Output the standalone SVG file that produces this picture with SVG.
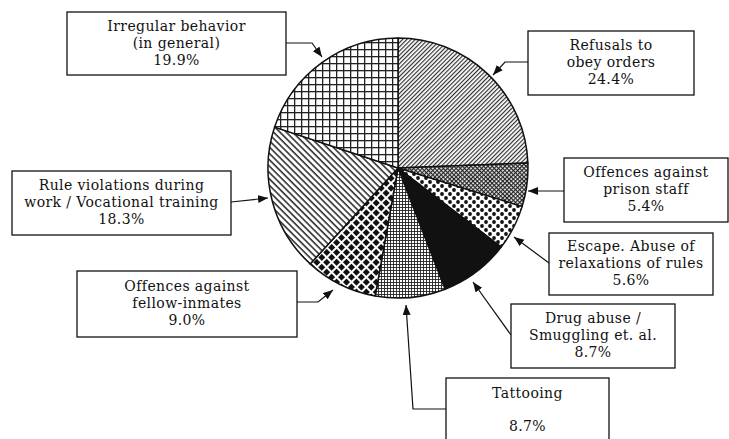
<svg xmlns="http://www.w3.org/2000/svg" width="729" height="439" viewBox="0 0 729 439">
<style>
.box{fill:#fff;stroke:#111;stroke-width:1.3}
.t{font-family:"DejaVu Serif","Liberation Serif",serif;font-size:14px;letter-spacing:0.4px;fill:#111;text-anchor:middle}
.c{fill:none;stroke:#111;stroke-width:1.2}
.s{stroke:#111;stroke-width:1.5;stroke-linejoin:round}
</style>
<defs>
<marker id="ah" markerUnits="userSpaceOnUse" markerWidth="12" markerHeight="10" refX="10" refY="4" orient="auto">
<path d="M0,0 L10,4 L0,8 Z" fill="#111"/>
</marker>
<pattern id="pRef" width="3" height="3" patternUnits="userSpaceOnUse" patternTransform="rotate(45)">
<rect width="3" height="3" fill="#fff"/><line x1="0.6" y1="0" x2="0.6" y2="3" stroke="#222" stroke-width="1.1"/>
</pattern>
<pattern id="pStaff" width="3" height="3" patternUnits="userSpaceOnUse" patternTransform="rotate(45)">
<rect width="3" height="3" fill="#fff"/><rect width="3" height="1.2" fill="#222"/><rect width="1.2" height="3" fill="#222"/>
</pattern>
<pattern id="pEsc" width="8" height="8" patternUnits="userSpaceOnUse">
<rect width="8" height="8" fill="#fff"/><circle cx="2" cy="2" r="1.9" fill="#111"/><circle cx="6" cy="6" r="1.9" fill="#111"/>
</pattern>
<pattern id="pTat" width="3" height="3" patternUnits="userSpaceOnUse">
<rect width="3" height="3" fill="#fff"/><rect width="3" height="0.9" fill="#222"/><rect width="0.9" height="3" fill="#222"/>
</pattern>
<pattern id="pFel" width="7" height="7" patternUnits="userSpaceOnUse" patternTransform="rotate(45)">
<rect width="7" height="7" fill="#fff"/><rect x="1" y="1" width="5" height="5" fill="#111"/>
</pattern>
<pattern id="pRule" width="4.5" height="4.5" patternUnits="userSpaceOnUse" patternTransform="rotate(-45)">
<rect width="4.5" height="4.5" fill="#fff"/><line x1="1" y1="0" x2="1" y2="4.5" stroke="#222" stroke-width="1.5"/>
</pattern>
<pattern id="pIrr" width="7" height="7" patternUnits="userSpaceOnUse">
<rect width="7" height="7" fill="#fff"/><rect width="7" height="1.3" fill="#222"/><rect width="1.3" height="7" fill="#222"/>
</pattern>
</defs>

<g id="pie">
<path class="s" fill="url(#pRef)" d="M398,168 L398,38 A130,130 0 0 1 527.9,163.1 Z"/>
<path class="s" fill="url(#pStaff)" d="M398,168 L527.9,163.1 A130,130 0 0 1 522.1,206.6 Z"/>
<path class="s" fill="url(#pEsc)" d="M398,168 L522.1,206.6 A130,130 0 0 1 501.2,247.0 Z"/>
<path class="s" fill="#111" d="M398,168 L501.2,247.0 A130,130 0 0 1 445.1,289.2 Z"/>
<path class="s" fill="url(#pTat)" d="M398,168 L445.1,289.2 A130,130 0 0 1 375.2,296.0 Z"/>
<path class="s" fill="url(#pFel)" d="M398,168 L375.2,296.0 A130,130 0 0 1 310.2,263.9 Z"/>
<path class="s" fill="url(#pRule)" d="M398,168 L310.2,263.9 A130,130 0 0 1 274.6,127.1 Z"/>
<path class="s" fill="url(#pIrr)" d="M398,168 L274.6,127.1 A130,130 0 0 1 398,38 Z"/>
</g>

<g id="connectors">
<polyline class="c" points="286,43 312,43 322,57" marker-end="url(#ah)"/>
<polyline class="c" points="528,62 505,62 493,75" marker-end="url(#ah)"/>
<polyline class="c" points="564,191 528,191" marker-end="url(#ah)"/>
<polyline class="c" points="549,263 514,237" marker-end="url(#ah)"/>
<polyline class="c" points="511,335 473,282" marker-end="url(#ah)"/>
<polyline class="c" points="446,409 413,409 406,305" marker-end="url(#ah)"/>
<polyline class="c" points="297,302 318,302 333,290" marker-end="url(#ah)"/>
<polyline class="c" points="231,202 268,198" marker-end="url(#ah)"/>
</g>

<g id="n-irregular">
<rect class="box" x="67" y="12" width="219" height="63"/>
<text class="t" x="176.5" y="31">Irregular behavior</text>
<text class="t" x="176.5" y="48">(in general)</text>
<text class="t" x="176.5" y="65">19.9%</text>
</g>
<g id="n-refusals">
<rect class="box" x="528" y="31" width="166" height="64"/>
<text class="t" x="611" y="50">Refusals to</text>
<text class="t" x="611" y="67">obey orders</text>
<text class="t" x="611" y="84">24.4%</text>
</g>
<g id="n-staff">
<rect class="box" x="564" y="158" width="164" height="64"/>
<text class="t" x="646" y="177">Offences against</text>
<text class="t" x="646" y="194">prison staff</text>
<text class="t" x="646" y="211">5.4%</text>
</g>
<g id="n-escape">
<rect class="box" x="549" y="233" width="164" height="62"/>
<text class="t" x="631" y="251">Escape. Abuse of</text>
<text class="t" x="631" y="268">relaxations of rules</text>
<text class="t" x="631" y="285">5.6%</text>
</g>
<g id="n-drug">
<rect class="box" x="511" y="304" width="164" height="64"/>
<text class="t" x="593" y="323">Drug abuse /</text>
<text class="t" x="593" y="340">Smuggling et. al.</text>
<text class="t" x="593" y="357">8.7%</text>
</g>
<g id="n-tattooing">
<rect class="box" x="446" y="378" width="163" height="70"/>
<text class="t" x="527.5" y="398">Tattooing</text>
<text class="t" x="527.5" y="431">8.7%</text>
</g>
<g id="n-fellow">
<rect class="box" x="77" y="271" width="220" height="66"/>
<text class="t" x="187" y="291">Offences against</text>
<text class="t" x="187" y="308">fellow-inmates</text>
<text class="t" x="187" y="325">9.0%</text>
</g>
<g id="n-rule">
<rect class="box" x="12" y="171" width="219" height="64"/>
<text class="t" x="121.5" y="190">Rule violations during</text>
<text class="t" x="121.5" y="207">work / Vocational training</text>
<text class="t" x="121.5" y="224">18.3%</text>
</g>
</svg>
